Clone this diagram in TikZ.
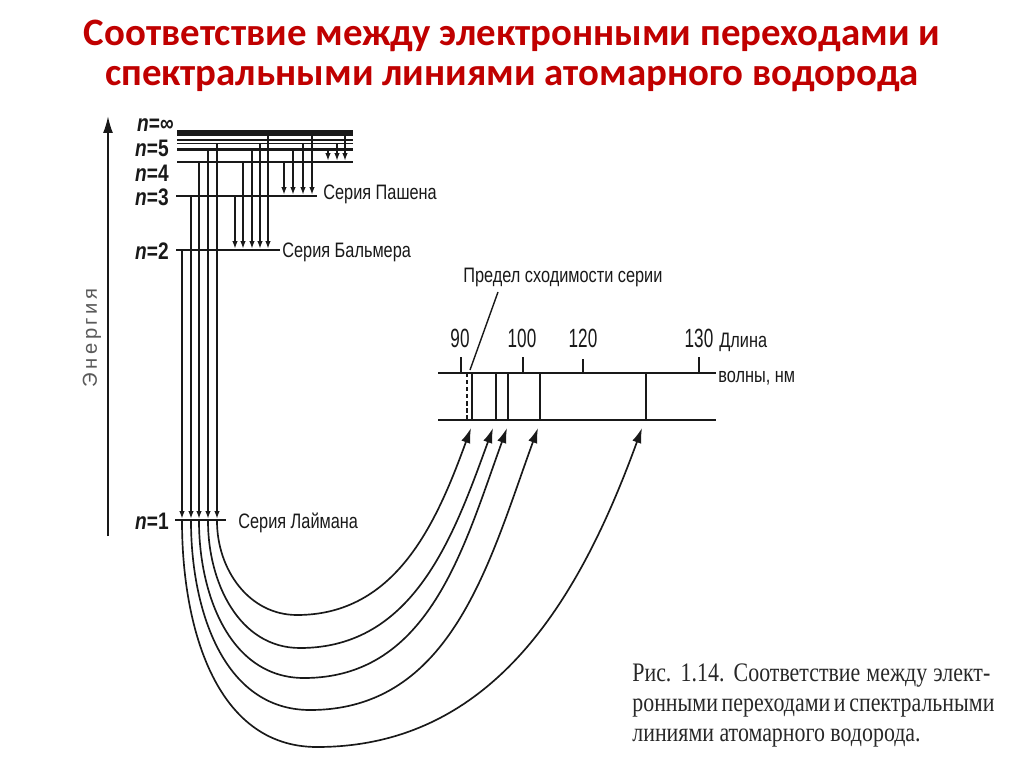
\documentclass[tikz,border=0pt]{standalone}
\usepackage{fontspec}
\setmainfont{Liberation Sans}
\newfontfamily\titlefont{Carlito}
\newfontfamily\lblfont[FakeStretch=0.78]{Liberation Sans}
\newfontfamily\numfont[FakeStretch=0.65]{Liberation Sans}
\newfontfamily\nfont[FakeStretch=0.8]{Liberation Sans}
\newfontfamily\enfont[LetterSpace=17]{Liberation Sans}
\newfontfamily\capfont[FakeStretch=0.82]{Liberation Serif}
\usetikzlibrary{arrows.meta}
\definecolor{ttlRed}{RGB}{192,0,0}
\definecolor{inkGray}{RGB}{25,25,25}
\definecolor{capGray}{RGB}{40,40,40}
\definecolor{enGray}{RGB}{90,90,90}

\begin{document}
\begin{tikzpicture}[x=0.02cm,y=-0.02cm,
      lvl/.style={draw=inkGray,line width=1.5pt},
      tr/.style={draw=inkGray,line width=1pt,-{Latex[length=1.6mm,width=1.1mm]}},
      ray/.style={draw=inkGray,line width=0.95pt,-{Latex[length=3mm,width=1.9mm]}},
      sp/.style={draw=inkGray,line width=1.1pt},
      lbl/.style={font=\lblfont\fontsize{11.9}{13}\selectfont,text=inkGray,inner sep=0pt,anchor=base west},
      num/.style={font=\numfont\fontsize{15}{16}\selectfont,text=inkGray,inner sep=0pt,anchor=base},
      nlab/.style={font=\nfont\bfseries\fontsize{13.6}{15}\selectfont,text=inkGray,inner sep=0pt,anchor=east},
      ttl/.style={font=\titlefont\bfseries\fontsize{22.1}{24}\selectfont,text=ttlRed},
      capline/.style={font=\capfont\fontsize{15.2}{17}\selectfont,text=capGray,inner sep=0pt,anchor=base west}]
    \useasboundingbox (0,0) rectangle (1024,767);
    \fill[white] (0,0) rectangle (1024,767);
    % title
    \node[ttl] (t1) at (512,36) {Соответствие между электронными переходами и};
    \node[ttl] (t2) at (512,79) {спектральными линиями атомарного водорода};
    % energy axis
    \coordinate (eBot) at (108,536);
    \coordinate (eTop) at (108,116);
    \draw[draw=inkGray,line width=1.1pt,-{Latex[length=3.4mm,width=2mm]}] (eBot) -- (eTop);
    \node[rotate=90,font=\enfont\fontsize{11.5}{12}\selectfont,text=enGray,inner sep=0pt] (en) at (92,338) {Энергия};
    % levels
    \draw[draw=inkGray,line width=2.85pt] (177,133) -- (353,133);
    \foreach \y in {140,143.5} \draw[draw=inkGray,line width=1.1pt] (177,\y) -- (353,\y);
    \foreach \y in {149.5,162} \draw[lvl] (177,\y) -- (353,\y);
    \draw[lvl] (176,196) -- (317,196);
    \draw[lvl] (176,250) -- (280,250);
    \draw[lvl] (175,520) -- (226,520);
    \node[nlab] (ninf) at (174,125) {{\itshape n}=∞};
    \node[nlab] (n5) at (169,148) {{\itshape n}=5};
    \node[nlab] (n4) at (169,173) {{\itshape n}=4};
    \node[nlab] (n3) at (169,197) {{\itshape n}=3};
    \node[nlab] (n2) at (169,251) {{\itshape n}=2};
    \node[nlab] (n1) at (169,521) {{\itshape n}=1};
    % transitions
    \foreach \x/\a/\b in {182/250/519,191/196/519,199/162/519,208/149.5/519,217/143.5/519,
                          235/196/249,243/162/249,252/149.5/249,260/143.5/249,268/133/249,
                          284/162/195,293/149.5/195,303/143.5/195,312/133/195,
                          328/149.5/161,337/143.5/161,345/133/161}
      \draw[tr] (\x,\a) -- (\x,\b);
    \node[lbl] (pash) at (323,199) {Серия Пашена};
    \node[lbl] (balm) at (282,257) {Серия Бальмера};
    \node[lbl] (laim) at (238,528) {Серия Лаймана};
    % spectrum
    \draw[sp] (438,373) -- (716,373);
    \draw[sp] (438,420) -- (716,420);
    \foreach \x/\t in {461/357,523/357,583/359,699/357} \draw[sp] (\x,\t) -- (\x,373);
    \foreach \x in {472,496,508,540,646} \draw[sp] (\x,373) -- (\x,420);
    \draw[sp,dashed,dash pattern=on 2.5pt off 1.5pt] (467,373) -- (467,420);
    \foreach \x/\v in {460/90,522/100,583/120,699/130} \node[num] (w\v) at (\x,347) {\v};
    \node[lbl] (dl) at (719,347) {Длина};
    \node[lbl] (vn) at (718,382) {волны, нм};
    \node[lbl] (pred) at (463,282) {Предел сходимости серии};
    \coordinate (lim) at (470,370);
    \coordinate (predFoot) at (498,292);
    \draw[draw=inkGray,line width=0.8pt] (predFoot) -- (lim);
    % lyman lines to the spectrum
    \foreach \x/\bx/\by/\tx in {217/297/615/471,208/300/648/493,199/304/678/507,191/310/710/538,182/317/747/642}
      \draw[ray] (\x,521) to[out=-90,in=180] (\bx,\by) to[out=0,in=-110] (\tx,428);
    % caption
    \node[capline] (c1) at (632,681) {\makebox[7.16cm][s]{Рис. 1.14. Соответствие между элект-}};
    \node[capline] (c2) at (632,711) {\makebox[7.16cm][s]{ронными переходами и спектральными}};
    \node[capline] (c3) at (632,741) {линиями атомарного водорода.};
  \end{tikzpicture}
\end{document}
